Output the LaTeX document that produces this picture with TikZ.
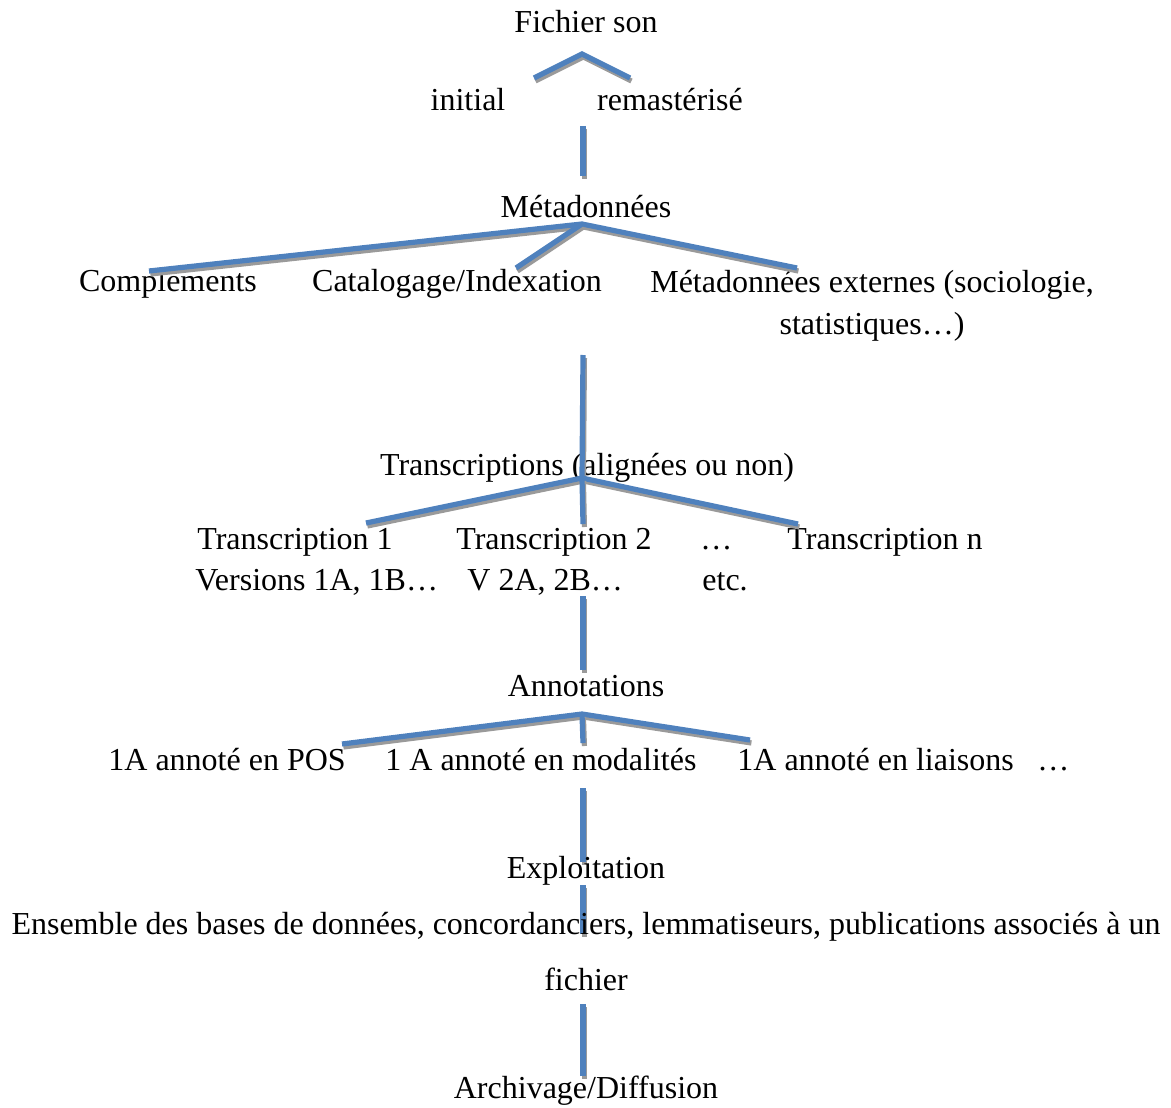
\documentclass[tikz,border=0pt]{standalone}
\usepackage{fontspec}
\setmainfont{Liberation Serif}
\usetikzlibrary{positioning}
\definecolor{lnblue}{HTML}{4F81BD}
\definecolor{shgray}{HTML}{9A9A9A}

\begin{document}
\begin{tikzpicture}[
  x=0.5pt, y=-0.5pt,
  link/.style={draw=lnblue, line width=2.6pt,
    preaction={draw=shgray, line width=2.6pt,
      transform canvas={shift={(0.7pt,-1.5pt)}}}},
  lbl/.style={font=\fontsize{16}{21}\selectfont, inner sep=0pt, anchor=base},
  lblw/.style={lbl, anchor=base west},
  lbltwo/.style={font=\fontsize{16}{21}\selectfont, inner sep=0pt, align=center},
]
\useasboundingbox (0,0) rectangle (1171,1107);

% === Fichier son ===
\node[lbl] (fichier) at (586,33) {Fichier son};
\node[lbl] (initial) at (468,111) {initial};
\node[lbl] (remaster) at (670,111) {remastérisé};

\coordinate (fs-apex) at (582,54);
\coordinate (fs-left) at (534,78);
\coordinate (fs-right) at (630,78);
\draw[link] (fs-left) -- (fs-apex) -- (fs-right);

\coordinate (v1-top) at (583,126);
\coordinate (v1-bot) at (583,176);
\draw[link] (v1-top) -- (v1-bot);

% === Metadonnees ===
\node[lbl] (meta) at (586,218) {Métadonnées};
\node[lbl] (compl) at (168,291) {Compléments};
\node[lbl] (catal) at (457,291) {Catalogage/Indexation};
\node[lbltwo] (extern) at (872,306) {Métadonnées externes (sociologie,\\statistiques…)};

\coordinate (meta-apex) at (582,224);
\coordinate (compl-end) at (149,271);
\coordinate (catal-end) at (516,268);
\coordinate (extern-end) at (797,268);
\draw[link] (compl-end) -- (meta-apex) -- (extern-end);
\draw[link] (meta-apex) -- (catal-end);

\coordinate (v2-top) at (583,355);

% === Transcriptions ===
\node[lbl] (transc) at (587,475) {Transcriptions (alignées ou non)};
\coordinate (tr-apex) at (582,478);
\draw[link] (v2-top) -- (tr-apex);

\node[lblw] (t1) at (197,549) {Transcription 1};
\node[lblw] (t1v) at (195,590) {Versions 1A, 1B…};
\node[lblw] (t2) at (456,549) {Transcription 2};
\node[lblw] (t2v) at (467,590) {V 2A, 2B…};
\node[lblw] (tdots) at (700,549) {…};
\node[lblw] (tetc) at (702,590) {etc.};
\node[lblw] (tn) at (787,549) {Transcription n};

\coordinate (t1-end) at (366,523);
\coordinate (tn-end) at (798,524);
\coordinate (t2-end) at (583,524);
\draw[link] (t1-end) -- (tr-apex) -- (tn-end);
\draw[link] (tr-apex) -- (t2-end);

\coordinate (v3-top) at (583,596);
\coordinate (v3-bot) at (583,670);
\draw[link] (v3-top) -- (v3-bot);

% === Annotations ===
\node[lbl] (annot) at (586,696) {Annotations};
\coordinate (an-apex) at (582,714);
\node[lblw] (apos) at (108,770) {1A annoté en POS};
\node[lblw] (amod) at (385,770) {1 A annoté en modalités};
\node[lblw] (alia) at (737,770) {1A annoté en liaisons};
\node[lblw] (adots) at (1037,770) {…};

\coordinate (apos-end) at (342,744);
\coordinate (alia-end) at (750,740);
\coordinate (amod-end) at (583,743);
\draw[link] (apos-end) -- (an-apex) -- (alia-end);
\draw[link] (an-apex) -- (amod-end);

\coordinate (v4-top) at (583,788);
\coordinate (v4-bot) at (583,862);
\draw[link] (v4-top) -- (v4-bot);

% === Exploitation ===
\node[lbl] (exploit) at (586,878) {Exploitation};
\coordinate (v5-top) at (583,885);
\coordinate (v5-bot) at (583,934);
\draw[link] (v5-top) -- (v5-bot);

\node[lbltwo, font=\fontsize{16}{28}\selectfont] (ensemble) at (586,952)
  {Ensemble des bases de données, concordanciers, lemmatiseurs, publications associés à un\\fichier};

\coordinate (v6-top) at (583,1004);
\coordinate (v6-bot) at (583,1076);
\draw[link] (v6-top) -- (v6-bot);

% === Archivage ===
\node[lbl] (archiv) at (586,1098) {Archivage/Diffusion};

\end{tikzpicture}
\end{document}
